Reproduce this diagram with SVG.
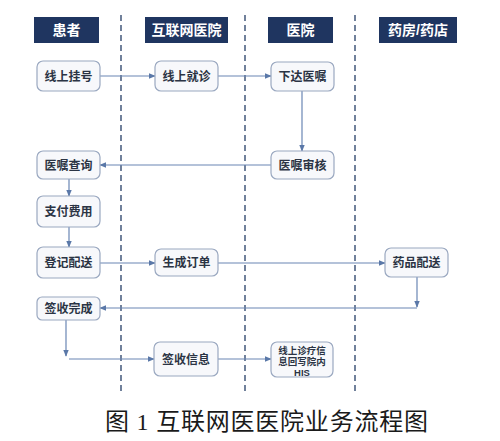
<svg xmlns="http://www.w3.org/2000/svg" width="500" height="441" viewBox="0 0 500 441">
<defs>
<marker id="ah" viewBox="0 0 10 10" refX="9" refY="5" markerWidth="7" markerHeight="7" markerUnits="userSpaceOnUse" orient="auto">
<path d="M0,1 L10,5 L0,9 z" fill="#5a78a8"/>
</marker>
<style>
.hd{fill:#1f3560;}
.ht{fill:#ffffff;font-family:"Liberation Sans","Noto Sans CJK SC",sans-serif;font-size:14px;font-weight:bold;text-anchor:middle;}
.nd{fill:#f7f8fb;stroke:#9aa8c0;stroke-width:1.2;}
.nt{fill:#2b3444;font-family:"Liberation Sans","Noto Sans CJK SC",sans-serif;font-size:12px;font-weight:bold;text-anchor:middle;}
.ns{fill:#2b3444;font-family:"Liberation Sans","Noto Sans CJK SC",sans-serif;font-size:9.5px;font-weight:bold;text-anchor:middle;}
.ln{fill:none;stroke:#6a86b4;stroke-width:1.2;}
.ar{marker-end:url(#ah);}
.dl{stroke:#4e6283;stroke-width:1.6;stroke-dasharray:6 4;fill:none;}
.cap{fill:#1a1a1a;font-family:"Liberation Serif","Noto Sans CJK SC",serif;font-size:24px;}
</style>
</defs>
<rect width="500" height="441" fill="#ffffff"/>
<g id="lanes">
<line class="dl" x1="121" y1="15" x2="121" y2="395"/>
<line class="dl" x1="245" y1="15" x2="245" y2="395"/>
<line class="dl" x1="355" y1="15" x2="355" y2="395"/>
</g>
<g id="h1"><rect class="hd" x="34" y="17" width="65" height="26"/><text class="ht" x="66.5" y="35">患者</text></g>
<g id="h2"><rect class="hd" x="145" y="17" width="83" height="26"/><text class="ht" x="186.5" y="35">互联网医院</text></g>
<g id="h3"><rect class="hd" x="268" y="17" width="65" height="26"/><text class="ht" x="300.5" y="35">医院</text></g>
<g id="h4"><rect class="hd" x="379" y="17" width="78" height="26"/><text class="ht" x="418" y="35">药房/药店</text></g>
<g id="connectors">
<line class="ln ar" x1="100" y1="76" x2="155" y2="76"/>
<line class="ln ar" x1="218" y1="76" x2="271" y2="76"/>
<line class="ln ar" x1="302" y1="91" x2="302" y2="151"/>
<line class="ln ar" x1="271" y1="165" x2="100" y2="165"/>
<line class="ln ar" x1="69" y1="179" x2="69" y2="196"/>
<line class="ln ar" x1="69" y1="227" x2="69" y2="247"/>
<line class="ln ar" x1="100" y1="263" x2="155" y2="263"/>
<line class="ln ar" x1="218" y1="263" x2="385" y2="263"/>
<line class="ln ar" x1="417" y1="277" x2="417" y2="307"/>
<line class="ln ar" x1="417" y1="308" x2="100" y2="308"/>
<line class="ln ar" x1="66" y1="320" x2="66" y2="356"/>
<line class="ln ar" x1="69" y1="359" x2="154" y2="359"/>
<line class="ln ar" x1="218" y1="359" x2="271" y2="359"/>
</g>
<g id="n1"><rect class="nd" x="37" y="61" width="63" height="30" rx="6"/><text class="nt" x="68.5" y="80.5">线上挂号</text></g>
<g id="n2"><rect class="nd" x="155" y="61" width="63" height="30" rx="6"/><text class="nt" x="186.5" y="80.5">线上就诊</text></g>
<g id="n3"><rect class="nd" x="271" y="62" width="63" height="29" rx="6"/><text class="nt" x="302.5" y="80.5">下达医嘱</text></g>
<g id="n4"><rect class="nd" x="271" y="151" width="63" height="28" rx="6"/><text class="nt" x="302.5" y="169.5">医嘱审核</text></g>
<g id="n5"><rect class="nd" x="37" y="151" width="63" height="28" rx="6"/><text class="nt" x="68.5" y="169.5">医嘱查询</text></g>
<g id="n6"><rect class="nd" x="37" y="196" width="63" height="31" rx="6"/><text class="nt" x="68.5" y="215.5">支付费用</text></g>
<g id="n7"><rect class="nd" x="37" y="247" width="63" height="31" rx="6"/><text class="nt" x="68.5" y="266.5">登记配送</text></g>
<g id="n8"><rect class="nd" x="155" y="249" width="63" height="27" rx="6"/><text class="nt" x="186.5" y="266.5">生成订单</text></g>
<g id="n9"><rect class="nd" x="385" y="248" width="63" height="29" rx="6"/><text class="nt" x="416.5" y="266.5">药品配送</text></g>
<g id="n10"><rect class="nd" x="37" y="297" width="63" height="23" rx="5"/><text class="nt" x="68.5" y="312.5">签收完成</text></g>
<g id="n11"><rect class="nd" x="154" y="342" width="64" height="34" rx="6"/><text class="nt" x="186" y="363.5">签收信息</text></g>
<g id="n12"><rect class="nd" x="271" y="342" width="62" height="35" rx="6"/><text class="ns" x="302" y="354">线上诊疗信</text><text class="ns" x="302" y="365">息回写院内</text><text class="ns" x="302" y="376">HIS</text></g>
<text class="cap" x="105" y="430" textLength="323" lengthAdjust="spacing">图 1 互联网医医院业务流程图</text>
</svg>
